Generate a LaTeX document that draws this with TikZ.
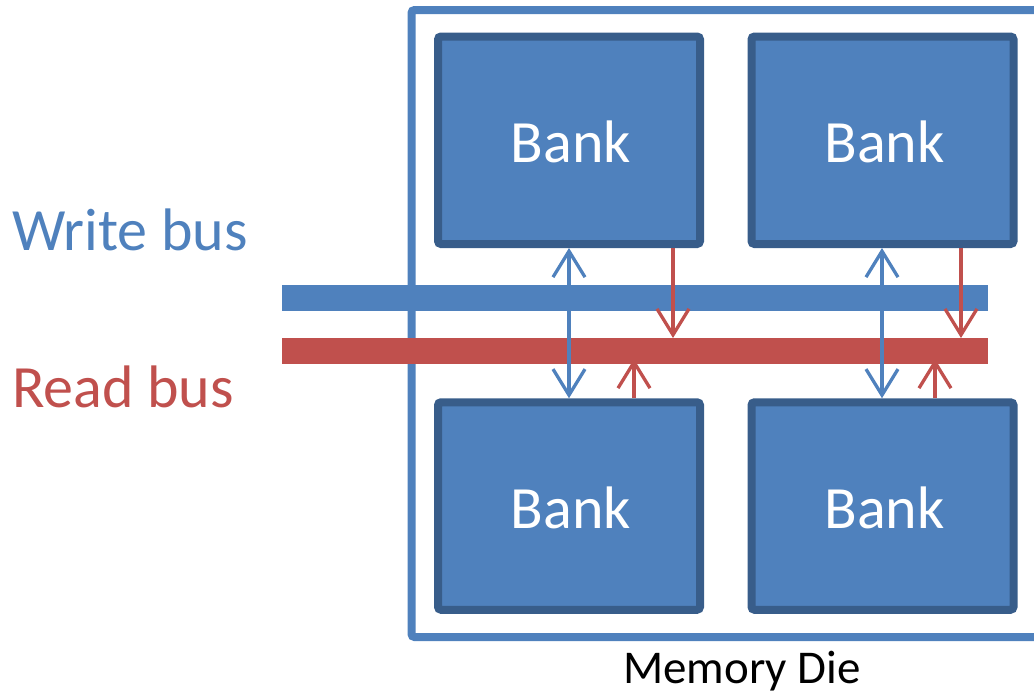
\documentclass[tikz,border=0pt]{standalone}
\usepackage{fontspec}
\setmainfont{Carlito}
\usetikzlibrary{arrows.meta}

\definecolor{bankfill}{HTML}{4F81BD}
\definecolor{bankedge}{HTML}{385D8A}
\definecolor{busred}{HTML}{C0504D}

\tikzset{
  barb/.tip={Straight Barb[length=26pt, width=32pt, line width=3.3pt]},
  bank/.style={draw=bankedge, fill=bankfill, line width=8pt, rounded corners=3pt,
    minimum width=262pt, minimum height=207.5pt, inner sep=0pt},
  banklabel/.style={text=white, font=\fontsize{60}{70}\selectfont, anchor=base, inner sep=0pt},
  bus/.style={minimum width=706pt, minimum height=26pt, inner sep=0pt, outer sep=0pt},
  wlink/.style={draw=bankfill, line width=3.3pt, barb-barb},
  rlink/.style={draw=busred, line width=3.3pt, -barb},
}

\begin{document}
\begin{tikzpicture}[x=1pt, y=-1pt]
  \clip (0,0) rectangle (1034,694);

  % die outline (runs off the right edge)
  \draw[draw=bankfill, line width=8pt, rounded corners=3pt] (411.5,10) rectangle (1060,637);
  \node[anchor=base, font=\fontsize{47}{56}\selectfont] (dielabel) at (742,683) {Memory Die};

  % the two buses
  \node[bus, fill=bankfill] (wbus) at (635,298) {};
  \node[bus, fill=busred] (rbus) at (635,351) {};
  \node[anchor=base west, inner sep=0pt, text=bankfill, font=\fontsize{60}{70}\selectfont] (wlabel) at (12,250) {Write bus};
  \node[anchor=base west, inner sep=0pt, text=busred, font=\fontsize{60}{70}\selectfont] (rlabel) at (12,407) {Read bus};

  % banks
  \node[bank] (tl) at (569,140.25) {};
  \node[bank] (tr) at (882.5,140.25) {};
  \node[bank] (bl) at (569,506) {};
  \node[bank] (br) at (882.5,506) {};
  \node[banklabel] at (571,162) {Bank};
  \node[banklabel] at (884.5,162) {Bank};
  \node[banklabel] at (571,528) {Bank};
  \node[banklabel] at (884.5,528) {Bank};

  % x positions of the links
  \coordinate (wl) at (569,0);
  \coordinate (rdl) at (673,0);
  \coordinate (rul) at (634,0);
  \coordinate (wr) at (882,0);
  \coordinate (rdr) at (961,0);
  \coordinate (rur) at (935,0);

  % write links: bank <-> bank through the write bus
  \draw[wlink] (tl.south -| wl) -- (bl.north -| wl);
  \draw[wlink] (tr.south -| wr) -- (br.north -| wr);

  % read links: top banks drive down, bottom banks drive up
  \draw[rlink] (tl.south -| rdl) -- (rbus.north -| rdl);
  \draw[rlink] (tr.south -| rdr) -- (rbus.north -| rdr);
  \draw[rlink] (bl.north -| rul) -- ([yshift=5pt]rbus.south -| rul);
  \draw[rlink] (br.north -| rur) -- ([yshift=5pt]rbus.south -| rur);
\end{tikzpicture}
\end{document}
